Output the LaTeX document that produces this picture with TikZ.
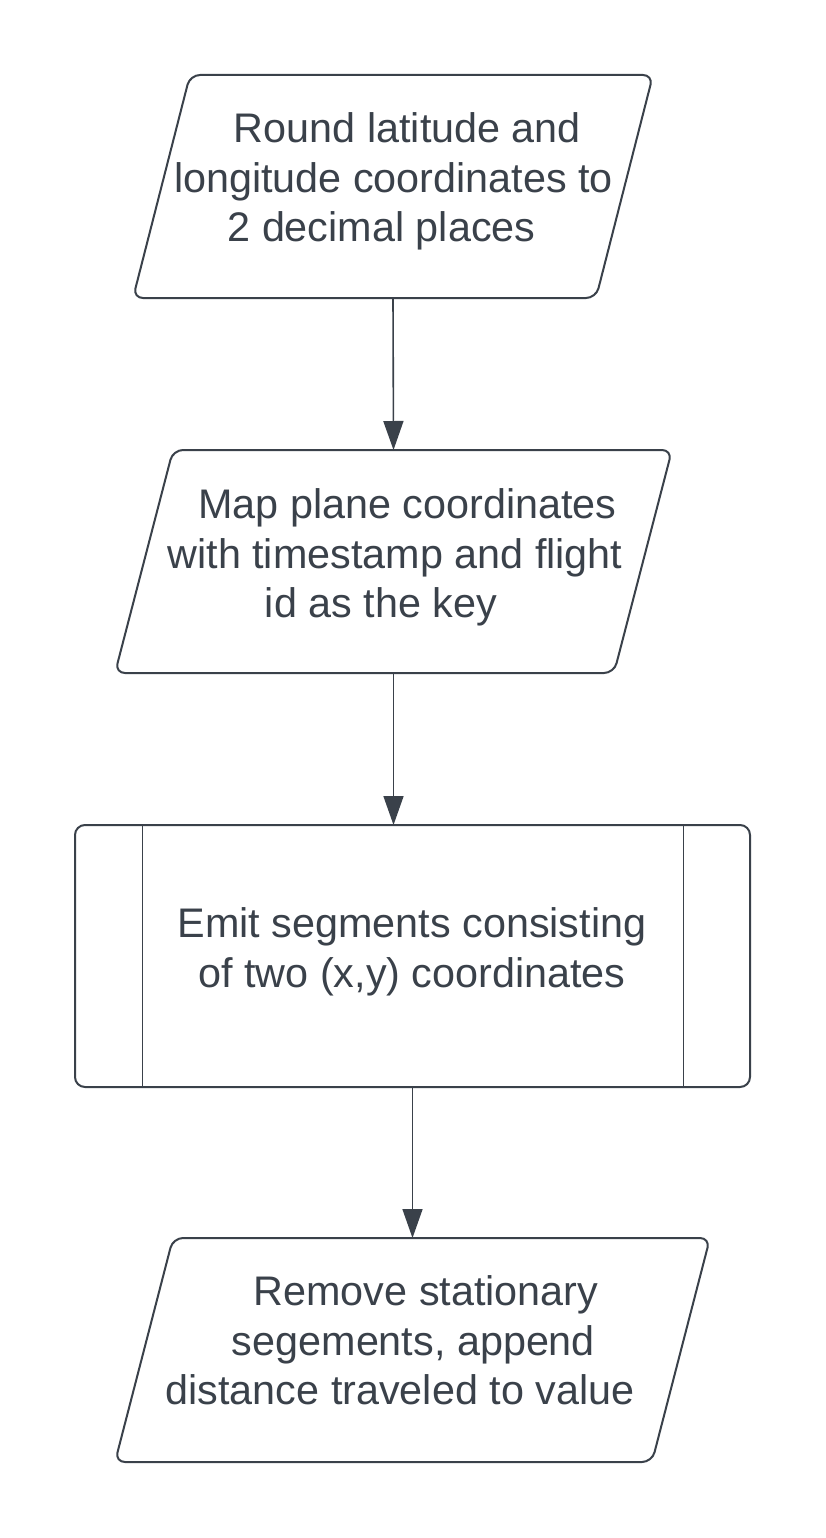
\documentclass[tikz,border=0pt]{standalone}
\usepackage{fontspec}
\setmainfont{Liberation Sans}
\usetikzlibrary{arrows.meta}
\definecolor{ink}{RGB}{58,65,74}
\newcommand\tstr{\rule{0pt}{30pt}}
\newcommand\bstr{\rule[-30pt]{0pt}{30pt}}
\newcommand\padd[1]{\makebox[#1]{}}
\tikzset{
  frame/.style={inner sep=0pt, outer sep=0pt},
  outline/.style={draw=ink, line width=1.5pt, rounded corners=7.5pt, fill=white},
  divider/.style={draw=ink, line width=0.75pt},
  label/.style={inner sep=0pt, align=center, text=ink, font=\fontsize{31pt}{37pt}\selectfont},
  flow/.style={draw=ink, line width=1.2pt, -{Triangle[width=15pt,length=21.75pt]}},
}
\begin{document}
\begin{tikzpicture}[x=0.75pt,y=-0.75pt]
\fill[white] (0,0) rectangle (825,1538);
\useasboundingbox (0,0) rectangle (825,1538);

% shape frames
\node[frame, minimum width=390pt, minimum height=167.25pt] (p1) at (393,186.5) {};
\node[frame, minimum width=417.75pt, minimum height=167.25pt] (p2) at (393.5,561.5) {};
\node[frame, minimum width=506.25pt, minimum height=196.5pt] (p3) at (412.5,956) {};
\node[frame, minimum width=446.25pt, minimum height=168pt] (p4) at (412.5,1350) {};

% outlines
\draw[outline] ([xshift=42.75pt]p1.north west) -- (p1.north east) -- ([xshift=-42.75pt]p1.south east) -- (p1.south west) -- cycle;
\draw[outline] ([xshift=43.5pt]p2.north west) -- (p2.north east) -- ([xshift=-43.5pt]p2.south east) -- (p2.south west) -- cycle;
\draw[outline] (p3.north west) rectangle (p3.south east);
\draw[divider] ([xshift=50.25pt]p3.north west) -- ([xshift=50.25pt]p3.south west);
\draw[divider] ([xshift=-50.25pt]p3.north east) -- ([xshift=-50.25pt]p3.south east);
\draw[outline] ([xshift=43.5pt]p4.north west) -- (p4.north east) -- ([xshift=-43.5pt]p4.south east) -- (p4.south west) -- cycle;

% texts
\node[label] (t1) at (393.5,192) {\tstr\padd{21pt}Round latitude and\\longitude coordinates to\\2 decimal places\padd{18pt}\bstr};
\node[label] (t2) at (395,568) {\tstr\padd{18.75pt}Map plane coordinates\\with timestamp and flight\\id as the key\padd{21pt}\bstr};
\node[label] (t3) at (412,962.5) {\tstr Emit segments consisting\\of two (x,y) coordinates\bstr};
\node[label] (t4) at (400,1355) {\tstr\padd{39pt}Remove stationary\\\padd{20.25pt}segements, append\\distance traveled to value\bstr};

% connectors
\draw[flow] (p1.south) -- (p2.north);
\draw[flow] (p2.south) -- (p2.south |- p3.north);
\draw[flow] (p3.south) -- (p4.north);
\end{tikzpicture}
\end{document}
